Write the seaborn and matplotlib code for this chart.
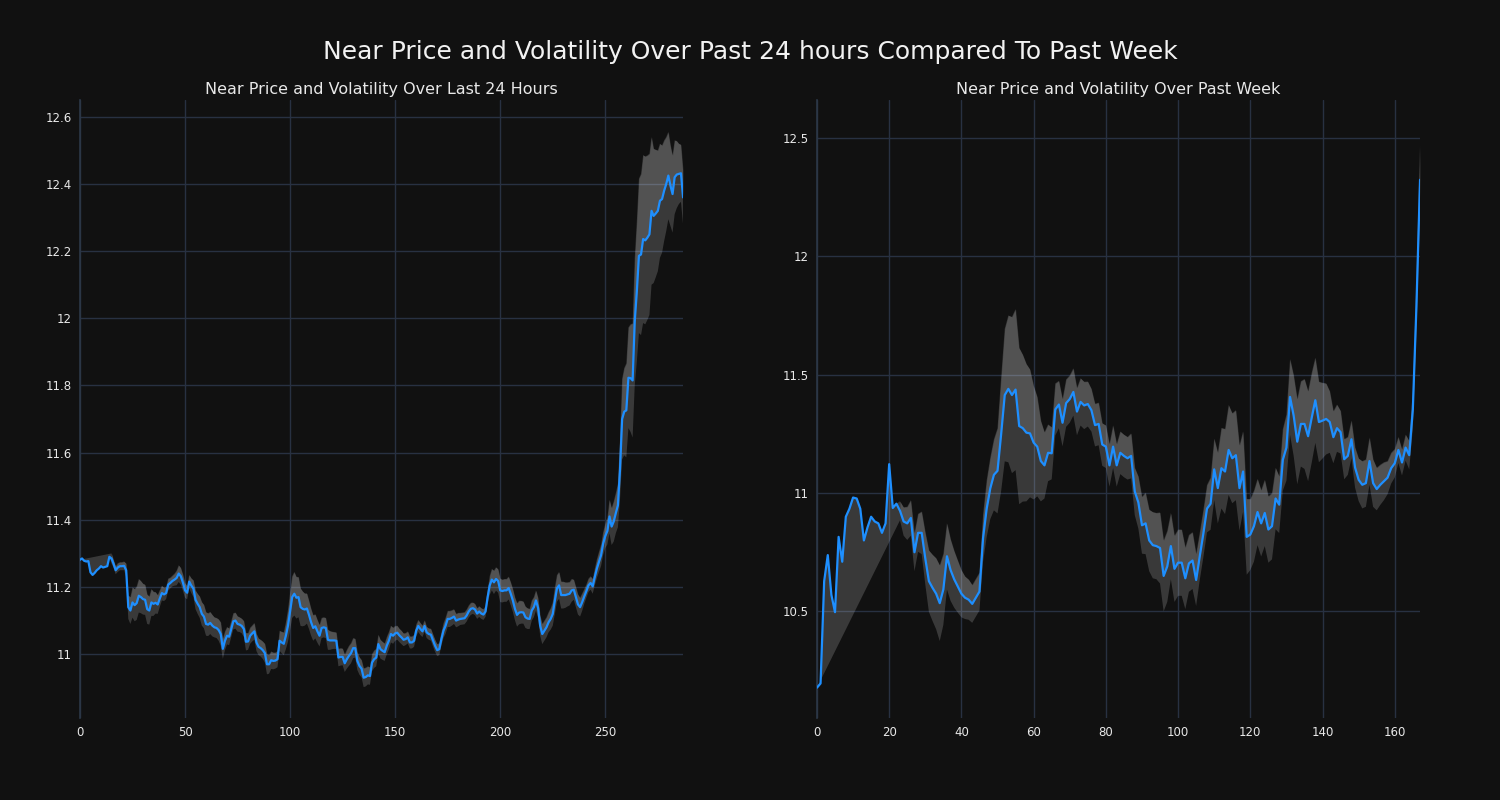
import numpy as np
import pandas as pd
import matplotlib
matplotlib.use("Agg")
import matplotlib.pyplot as plt
import seaborn as sns
from matplotlib.ticker import FuncFormatter

# 지난 24시간 (5분 간격, 288개) 가격
price_24h = [
    11.281, 11.285, 11.278, 11.276, 11.277, 11.244, 11.236, 11.242, 11.250, 11.255,
    11.262, 11.258, 11.260, 11.262, 11.290, 11.285, 11.269, 11.250, 11.258, 11.262,
    11.262, 11.263, 11.250, 11.140, 11.130, 11.154, 11.146, 11.152, 11.174, 11.170,
    11.164, 11.162, 11.134, 11.130, 11.154, 11.150, 11.153, 11.148, 11.166, 11.182,
    11.178, 11.182, 11.207, 11.212, 11.218, 11.222, 11.227, 11.240, 11.232, 11.213,
    11.190, 11.183, 11.216, 11.204, 11.195, 11.162, 11.150, 11.140, 11.120, 11.112,
    11.090, 11.088, 11.093, 11.085, 11.080, 11.078, 11.072, 11.060, 11.016, 11.040,
    11.055, 11.052, 11.075, 11.098, 11.100, 11.090, 11.088, 11.084, 11.075, 11.037,
    11.038, 11.055, 11.062, 11.068, 11.035, 11.022, 11.018, 11.012, 11.003, 10.970,
    10.970, 10.982, 10.980, 10.981, 10.985, 11.040, 11.035, 11.031, 11.055, 11.085,
    11.127, 11.170, 11.180, 11.168, 11.170, 11.140, 11.135, 11.133, 11.136, 11.117,
    11.095, 11.078, 11.083, 11.068, 11.055, 11.078, 11.080, 11.078, 11.043, 11.041,
    11.041, 11.041, 11.040, 10.990, 10.992, 10.992, 10.973, 10.985, 10.995, 11.003,
    11.018, 11.018, 10.980, 10.965, 10.957, 10.930, 10.932, 10.937, 10.935, 10.975,
    10.985, 10.990, 11.030, 11.015, 11.010, 11.006, 11.025, 11.040, 11.060, 11.055,
    11.062, 11.064, 11.056, 11.050, 11.043, 11.045, 11.050, 11.035, 11.035, 11.040,
    11.070, 11.084, 11.075, 11.068, 11.084, 11.065, 11.060, 11.058, 11.041, 11.025,
    11.012, 11.015, 11.045, 11.070, 11.085, 11.105, 11.105, 11.108, 11.112, 11.100,
    11.103, 11.105, 11.106, 11.107, 11.115, 11.127, 11.135, 11.137, 11.133, 11.121,
    11.127, 11.121, 11.118, 11.127, 11.170, 11.205, 11.222, 11.214, 11.224, 11.218,
    11.190, 11.188, 11.190, 11.190, 11.197, 11.180, 11.160, 11.135, 11.117, 11.124,
    11.125, 11.124, 11.110, 11.106, 11.105, 11.130, 11.140, 11.160, 11.138, 11.085,
    11.060, 11.070, 11.080, 11.095, 11.105, 11.120, 11.160, 11.196, 11.205, 11.176,
    11.176, 11.176, 11.178, 11.180, 11.190, 11.192, 11.170, 11.148, 11.140, 11.155,
    11.172, 11.188, 11.205, 11.212, 11.202, 11.230, 11.255, 11.275, 11.295, 11.330,
    11.352, 11.367, 11.410, 11.380, 11.395, 11.420, 11.443, 11.550, 11.700, 11.722,
    11.726, 11.823, 11.822, 11.815, 11.990, 12.080, 12.186, 12.190, 12.236, 12.232,
    12.240, 12.250, 12.320, 12.305, 12.312, 12.320, 12.350, 12.355, 12.380, 12.400,
    12.425, 12.395, 12.370, 12.420, 12.428, 12.430, 12.432, 12.360,
]

# 24시간 변동성 (앞부분은 rolling 창이 안 차서 NaN)
nan = np.nan
vol_24h = [
    nan, nan, nan, nan, nan, nan, nan, nan, nan, nan,
    nan, nan, nan, nan, nan, 0.015, 0.012, 0.012, 0.013, 0.012,
    0.012, 0.013, 0.020, 0.035, 0.040, 0.045, 0.048, 0.050, 0.050, 0.048,
    0.046, 0.045, 0.044, 0.042, 0.040, 0.036, 0.032, 0.028, 0.025, 0.022,
    0.020, 0.018, 0.018, 0.016, 0.016, 0.018, 0.022, 0.025, 0.025, 0.024,
    0.022, 0.020, 0.020, 0.022, 0.025, 0.028, 0.030, 0.032, 0.035, 0.035,
    0.035, 0.034, 0.033, 0.032, 0.030, 0.030, 0.032, 0.035, 0.030, 0.028,
    0.026, 0.025, 0.024, 0.024, 0.024, 0.023, 0.022, 0.022, 0.024, 0.026,
    0.025, 0.024, 0.024, 0.025, 0.026, 0.025, 0.025, 0.026, 0.028, 0.030,
    0.028, 0.026, 0.025, 0.024, 0.024, 0.030, 0.032, 0.034, 0.040, 0.048,
    0.055, 0.062, 0.065, 0.062, 0.060, 0.056, 0.052, 0.048, 0.045, 0.042,
    0.040, 0.038, 0.036, 0.034, 0.032, 0.030, 0.030, 0.030, 0.030, 0.028,
    0.026, 0.025, 0.025, 0.026, 0.026, 0.025, 0.026, 0.028, 0.030, 0.030,
    0.030, 0.028, 0.027, 0.026, 0.026, 0.028, 0.028, 0.027, 0.026, 0.026,
    0.026, 0.026, 0.028, 0.028, 0.027, 0.026, 0.026, 0.026, 0.025, 0.024,
    0.022, 0.021, 0.020, 0.020, 0.019, 0.018, 0.018, 0.018, 0.018, 0.018,
    0.018, 0.018, 0.018, 0.017, 0.017, 0.017, 0.017, 0.018, 0.018, 0.018,
    0.018, 0.018, 0.020, 0.022, 0.024, 0.024, 0.024, 0.023, 0.022, 0.020,
    0.020, 0.018, 0.018, 0.018, 0.018, 0.018, 0.018, 0.017, 0.017, 0.016,
    0.016, 0.016, 0.016, 0.016, 0.020, 0.028, 0.032, 0.035, 0.035, 0.035,
    0.035, 0.034, 0.034, 0.034, 0.034, 0.034, 0.034, 0.034, 0.035, 0.035,
    0.034, 0.033, 0.032, 0.031, 0.030, 0.030, 0.030, 0.030, 0.030, 0.030,
    0.030, 0.030, 0.030, 0.030, 0.032, 0.035, 0.040, 0.040, 0.040, 0.040,
    0.040, 0.038, 0.036, 0.035, 0.034, 0.030, 0.030, 0.030, 0.028, 0.026,
    0.022, 0.020, 0.020, 0.020, 0.022, 0.025, 0.028, 0.030, 0.032, 0.034,
    0.036, 0.040, 0.050, 0.055, 0.060, 0.060, 0.065, 0.090, 0.120, 0.130,
    0.140, 0.150, 0.160, 0.170, 0.190, 0.210, 0.230, 0.240, 0.250, 0.250,
    0.245, 0.240, 0.220, 0.200, 0.190, 0.180, 0.170, 0.160, 0.150, 0.140,
    0.130, 0.120, 0.115, 0.110, 0.100, 0.090, 0.085, 0.080,
]

# 지난 1주일 (1시간 간격, 168개) 가격
price_week = [
    10.178, 10.196, 10.628, 10.738, 10.570, 10.497, 10.815, 10.710, 10.900, 10.934,
    10.981, 10.977, 10.934, 10.800, 10.855, 10.900, 10.880, 10.872, 10.832, 10.872,
    11.122, 10.937, 10.955, 10.925, 10.880, 10.872, 10.895, 10.750, 10.832, 10.832,
    10.724, 10.628, 10.600, 10.575, 10.535, 10.593, 10.733, 10.675, 10.636, 10.605,
    10.575, 10.558, 10.550, 10.532, 10.558, 10.584, 10.810, 10.934, 11.020, 11.077,
    11.094, 11.248, 11.414, 11.440, 11.414, 11.437, 11.283, 11.274, 11.255, 11.252,
    11.213, 11.196, 11.135, 11.117, 11.170, 11.168, 11.353, 11.374, 11.297, 11.380,
    11.397, 11.427, 11.344, 11.385, 11.370, 11.376, 11.350, 11.287, 11.292, 11.205,
    11.196, 11.117, 11.196, 11.117, 11.170, 11.157, 11.147, 11.157, 11.007, 10.960,
    10.864, 10.872, 10.800, 10.780, 10.776, 10.768, 10.650, 10.690, 10.776, 10.680,
    10.706, 10.706, 10.640, 10.703, 10.715, 10.633, 10.733, 10.829, 10.934, 10.955,
    11.100, 11.021, 11.105, 11.091, 11.182, 11.147, 11.160, 11.021, 11.091, 10.815,
    10.825, 10.860, 10.920, 10.872, 10.916, 10.846, 10.860, 10.977, 10.951, 11.140,
    11.192, 11.406, 11.327, 11.217, 11.292, 11.292, 11.240, 11.318, 11.392, 11.300,
    11.306, 11.313, 11.300, 11.236, 11.274, 11.257, 11.143, 11.157, 11.227, 11.108,
    11.056, 11.035, 11.042, 11.135, 11.042, 11.017, 11.035, 11.050, 11.065, 11.105,
    11.126, 11.182, 11.129, 11.192, 11.160, 11.353, 11.790, 12.323,
]

vol_week = [
    nan, nan, nan, nan, nan, nan, nan, nan, nan, nan,
    nan, nan, nan, nan, nan, nan, nan, nan, nan, nan,
    nan, nan, nan, 0.040, 0.060, 0.070, 0.075, 0.080, 0.080, 0.090,
    0.110, 0.130, 0.140, 0.150, 0.160, 0.150, 0.140, 0.130, 0.120, 0.110,
    0.100, 0.090, 0.085, 0.080, 0.080, 0.080, 0.100, 0.120, 0.130, 0.150,
    0.180, 0.240, 0.280, 0.310, 0.330, 0.340, 0.330, 0.310, 0.290, 0.270,
    0.240, 0.210, 0.170, 0.140, 0.120, 0.110, 0.110, 0.100, 0.100, 0.100,
    0.100, 0.100, 0.100, 0.100, 0.100, 0.095, 0.090, 0.090, 0.090, 0.090,
    0.090, 0.090, 0.090, 0.090, 0.090, 0.090, 0.090, 0.095, 0.100, 0.110,
    0.120, 0.130, 0.130, 0.140, 0.140, 0.150, 0.150, 0.150, 0.140, 0.140,
    0.140, 0.140, 0.130, 0.120, 0.120, 0.110, 0.100, 0.100, 0.100, 0.110,
    0.130, 0.150, 0.170, 0.180, 0.190, 0.190, 0.190, 0.180, 0.170, 0.160,
    0.150, 0.150, 0.140, 0.140, 0.140, 0.140, 0.140, 0.130, 0.120, 0.130,
    0.140, 0.160, 0.170, 0.180, 0.180, 0.190, 0.190, 0.190, 0.180, 0.170,
    0.160, 0.150, 0.130, 0.110, 0.100, 0.090, 0.085, 0.080, 0.080, 0.085,
    0.090, 0.100, 0.100, 0.100, 0.100, 0.090, 0.085, 0.080, 0.070, 0.065,
    0.060, 0.055, 0.055, 0.055, 0.060, 0.080, 0.110, 0.150,
]

bg = "#111111"
grid_c = "#283142"
text_c = "#e8e8e8"
line_c = "#1e8fff"

sns.set_theme(style="darkgrid", rc={
    "figure.facecolor": bg,
    "axes.facecolor": bg,
    "axes.edgecolor": grid_c,
    "grid.color": grid_c,
    "grid.linewidth": 1.0,
    "text.color": text_c,
    "axes.labelcolor": text_c,
    "xtick.color": text_c,
    "ytick.color": text_c,
})
plt.rcParams["font.family"] = ["DejaVu Sans"]


def band(ax, x, price, vol, follow_low):
    # 변동성 밴드: 창이 안 찬 앞부분은 가격선을 따라가고 반대편은 생략
    price = np.asarray(price)
    vol = np.asarray(vol)
    ok = ~np.isnan(vol)
    hi = np.where(ok, price + np.nan_to_num(vol), price)
    lo = np.where(ok, price - np.nan_to_num(vol), price)
    if follow_low:
        xs = np.concatenate([x, x[ok][::-1]])
        ys = np.concatenate([lo, hi[ok][::-1]])
    else:
        xs = np.concatenate([x, x[ok][::-1]])
        ys = np.concatenate([hi, lo[ok][::-1]])
    ax.fill(xs, ys, color="white", alpha=0.17, lw=0, zorder=1)
    ax.fill_between(x[ok], price[ok], hi[ok], color="white", alpha=0.13, lw=0, zorder=1)


fig, axes = plt.subplots(1, 2, figsize=(15, 8), dpi=100)
fig.subplots_adjust(left=0.0533, right=0.9467, top=0.875, bottom=0.1025, wspace=0.222)

df_24 = pd.DataFrame({"x": np.arange(len(price_24h)), "price": price_24h, "vol": vol_24h})
df_wk = pd.DataFrame({"x": np.arange(len(price_week)), "price": price_week, "vol": vol_week})

fmt = FuncFormatter(lambda v, p: f"{v:g}")

for ax, df, title, follow_low, ylim in [
    (axes[0], df_24, "Near Price and Volatility Over Last 24 Hours", True, (10.81, 12.65)),
    (axes[1], df_wk, "Near Price and Volatility Over Past Week", False, (10.05, 12.66)),
]:
    band(ax, df["x"].values, df["price"].values, df["vol"].values, follow_low)
    sns.lineplot(data=df, x="x", y="price", ax=ax, color=line_c, lw=1.6, zorder=3)
    ax.set_xlim(0, len(df) - 1)
    ax.set_ylim(*ylim)
    ax.set_title(title, fontsize=11.5, color=text_c, pad=4)
    ax.set_xlabel("")
    ax.set_ylabel("")
    ax.yaxis.set_major_formatter(fmt)
    ax.tick_params(axis="both", length=0, labelsize=8.5, pad=6)
    for s in ["top", "right", "bottom"]:
        ax.spines[s].set_visible(False)
    ax.spines["left"].set_visible(True)
    ax.spines["left"].set_color("#2c3848")
    ax.spines["left"].set_linewidth(1.2)

axes[0].set_yticks([11, 11.2, 11.4, 11.6, 11.8, 12, 12.2, 12.4, 12.6])
axes[1].set_yticks([10.5, 11, 11.5, 12, 12.5])

fig.suptitle("Near Price and Volatility Over Past 24 hours Compared To Past Week",
             fontsize=18, color="#f2f2f2", y=0.95)

fig.savefig("out.png", facecolor=bg)
